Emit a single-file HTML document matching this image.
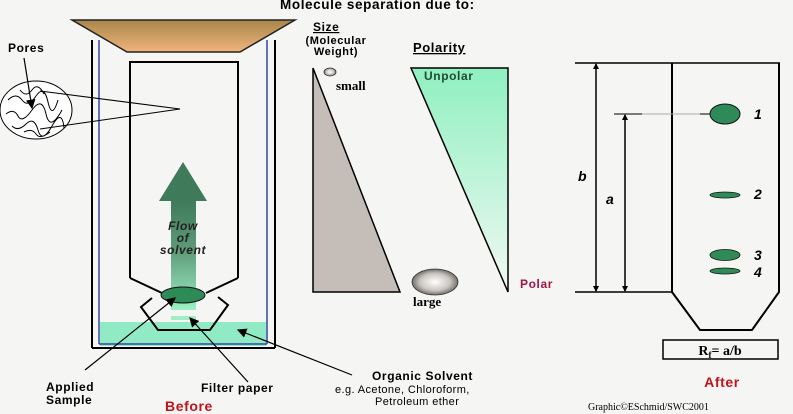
<!DOCTYPE html>
<html><head><style>
html,body{margin:0;padding:0;background:#f5f5f3;}
svg{display:block;}
text{font-family:"Liberation Sans",sans-serif;}
.b{font-weight:bold;letter-spacing:0.6px;}
.s{font-family:"Liberation Serif",serif;letter-spacing:0;}
</style></head><body>
<svg width="793" height="414" viewBox="0 0 793 414" xmlns="http://www.w3.org/2000/svg">
<defs>
<linearGradient id="tan" x1="0" y1="0" x2="0" y2="1"><stop offset="0" stop-color="#a8864a"/><stop offset="1" stop-color="#f0b47c"/></linearGradient>
<linearGradient id="arr" x1="0" y1="0" x2="0" y2="1"><stop offset="0" stop-color="#3f7a5a"/><stop offset="0.45" stop-color="#5e9a78"/><stop offset="1" stop-color="#9ef0c4"/></linearGradient>
<linearGradient id="grn" x1="0" y1="0" x2="0" y2="1"><stop offset="0" stop-color="#8ff0c0"/><stop offset="1" stop-color="#f2f8f4"/></linearGradient>
<radialGradient id="ball" cx="0.5" cy="0.5" r="0.55"><stop offset="0" stop-color="#ffffff"/><stop offset="0.6" stop-color="#c8c4c0"/><stop offset="1" stop-color="#5a5550"/></radialGradient>
<marker id="ah" markerWidth="8" markerHeight="8" refX="7" refY="4" orient="auto"><path d="M0,0 L8,4 L0,8 z" fill="#000"/></marker>
<marker id="sm" markerWidth="6" markerHeight="6" refX="5" refY="3" orient="auto-start-reverse" markerUnits="userSpaceOnUse"><path d="M0,0 L6,3 L0,6 z" fill="#000"/></marker>
</defs>
<!-- beaker -->
<rect x="100" y="322" width="166" height="24" fill="#90ebc4"/>
<line x1="92" y1="40" x2="92" y2="348" stroke="#000" stroke-width="2"/>
<line x1="275" y1="40" x2="275" y2="348" stroke="#000" stroke-width="2"/>
<line x1="92" y1="348" x2="275" y2="348" stroke="#000" stroke-width="2"/>
<line x1="99" y1="40" x2="99" y2="344" stroke="#3344aa" stroke-width="1.5"/>
<line x1="267" y1="40" x2="267" y2="344" stroke="#3344aa" stroke-width="1.5"/>
<line x1="99" y1="344" x2="267" y2="344" stroke="#3344aa" stroke-width="1.5"/>
<polygon points="72,20 295,20 240,52 127,52" fill="url(#tan)" stroke="#222" stroke-width="1.5"/>
<!-- paper -->
<polyline points="130,278 130,62 238,62 238,278" fill="none" stroke="#000" stroke-width="2"/>
<line x1="130" y1="278" x2="162" y2="293" stroke="#000" stroke-width="2"/>
<line x1="238" y1="278" x2="206" y2="293" stroke="#000" stroke-width="2"/>
<!-- arrow -->
<polygon points="183,162 207,201 159,201" fill="#3f7a5a"/>
<rect x="171" y="200" width="25" height="110" fill="url(#arr)"/>
<rect x="171" y="316" width="25" height="4" fill="#9ef0c4"/>
<text x="183" y="230" text-anchor="middle" font-size="12" font-style="italic" class="b" fill="#222">Flow</text>
<text x="183" y="242" text-anchor="middle" font-size="12" font-style="italic" class="b" fill="#222">of</text>
<text x="183" y="254" text-anchor="middle" font-size="12" font-style="italic" class="b" fill="#222">solvent</text>
<!-- hexagon -->
<polyline points="152,298 141,307 158,330 210,330 228,305 218,297" fill="none" stroke="#000" stroke-width="2"/>
<ellipse cx="183" cy="295" rx="22" ry="8" fill="#2e8b57" stroke="#111" stroke-width="1"/>
<!-- pores -->
<ellipse cx="36" cy="110" rx="36" ry="29" fill="#fff" stroke="#000" stroke-width="1"/>
<path d="M8,100 q8,-8 14,0 t14,-4 t12,6 t10,-2 M6,114 q8,-6 12,2 t14,-6 t14,4 t16,-4 M12,126 q6,6 14,-2 t12,6 t14,-4 t12,2 M20,90 q6,8 12,0 t12,4 M24,132 q8,-4 12,2 t14,-2" fill="none" stroke="#000" stroke-width="1"/>
<line x1="40" y1="91" x2="180" y2="109" stroke="#000" stroke-width="1"/>
<line x1="40" y1="129" x2="180" y2="109" stroke="#000" stroke-width="1"/>
<text x="8" y="52" font-size="12" class="b">Pores</text>
<line x1="24" y1="58" x2="32" y2="108" stroke="#000" stroke-width="1.2" marker-end="url(#ah)"/>
<!-- bottom labels -->
<line x1="85" y1="370" x2="175" y2="298" stroke="#000" stroke-width="1.2" marker-end="url(#ah)"/>
<line x1="248" y1="382" x2="190" y2="318" stroke="#000" stroke-width="1.2" marker-end="url(#ah)"/>
<line x1="352" y1="375" x2="238" y2="330" stroke="#000" stroke-width="1.2" marker-end="url(#ah)"/>
<text x="46" y="391" font-size="12" class="b">Applied</text>
<text x="46" y="404" font-size="12" class="b">Sample</text>
<text x="201" y="392" font-size="12" class="b">Filter paper</text>
<text x="165" y="411" font-size="14" class="b" fill="#c0141c">Before</text>
<text x="372" y="380" font-size="12" class="b">Organic Solvent</text>
<text x="335" y="393" font-size="11" letter-spacing="0.4">e.g. Acetone, Chloroform,</text>
<text x="375" y="405" font-size="11" letter-spacing="0.4">Petroleum ether</text>
<!-- title -->
<text x="280" y="9" font-size="13.5" class="b">Molecule separation due to:</text>
<text x="313" y="31" font-size="12" class="b" text-decoration="underline">Size</text>
<text x="336" y="44" font-size="11" class="b" text-anchor="middle">(Molecular</text>
<text x="336" y="55" font-size="11" class="b" text-anchor="middle">Weight)</text>
<text x="413" y="52" font-size="13" class="b" text-decoration="underline">Polarity</text>
<polygon points="313,68 313,292 400,292" fill="#c4bdb8" stroke="#000" stroke-width="1.5"/>
<ellipse cx="330" cy="72" rx="6" ry="4" fill="url(#ball)" stroke="#333" stroke-width="0.8"/>
<text x="336" y="90" font-size="13" class="s b">small</text>
<ellipse cx="435" cy="282" rx="23" ry="13" fill="url(#ball)" stroke="#333" stroke-width="0.8"/>
<text x="413" y="306" font-size="13" class="s b">large</text>
<polygon points="411,68 508,68 508,292" fill="url(#grn)" stroke="#000" stroke-width="1.5"/>
<text x="424" y="80" font-size="12" class="b" fill="#1e4d2e">Unpolar</text>
<text x="520" y="288" font-size="12" class="b" fill="#a0144a">Polar</text>
<!-- right -->
<line x1="575" y1="63" x2="780" y2="63" stroke="#000" stroke-width="1.5"/>
<line x1="575" y1="292" x2="672" y2="292" stroke="#000" stroke-width="1.5"/>
<polyline points="672,63 672,292 700,330 752,330 779,292 779,63" fill="none" stroke="#000" stroke-width="2"/>
<line x1="596" y1="64" x2="596" y2="291" stroke="#000" stroke-width="1.5" marker-end="url(#sm)" marker-start="url(#sm)"/>
<line x1="625" y1="115" x2="625" y2="291" stroke="#000" stroke-width="1.5" marker-end="url(#sm)" marker-start="url(#sm)"/>
<line x1="614" y1="114" x2="642" y2="114" stroke="#000" stroke-width="1"/>
<line x1="642" y1="114" x2="700" y2="114" stroke="#aaa" stroke-width="1"/>
<line x1="700" y1="114" x2="725" y2="114" stroke="#000" stroke-width="1"/>
<ellipse cx="725" cy="114" rx="15" ry="10" fill="#2e8b57" stroke="#111" stroke-width="1"/>
<ellipse cx="725" cy="195" rx="15" ry="3" fill="#2e8b57" stroke="#111" stroke-width="0.8"/>
<ellipse cx="725" cy="255" rx="15" ry="5.5" fill="#2e8b57" stroke="#111" stroke-width="0.8"/>
<ellipse cx="725" cy="271" rx="15" ry="3" fill="#2e8b57" stroke="#111" stroke-width="0.8"/>
<g font-family="Liberation Serif,serif" font-style="italic" font-weight="bold" font-size="14">
<text x="754" y="119">1</text><text x="754" y="199">2</text><text x="754" y="260">3</text><text x="754" y="277">4</text>
<text x="578" y="181">b</text><text x="606" y="204">a</text>
</g>
<rect x="663" y="340" width="115" height="19" fill="none" stroke="#000" stroke-width="1.5"/>
<text x="720" y="355" text-anchor="middle" font-size="14" class="s" font-weight="bold">R<tspan font-size="9" dy="3">f</tspan><tspan dy="-3">= a/b</tspan></text>
<text x="722" y="387" text-anchor="middle" font-size="14" class="b" fill="#c0141c">After</text>
<text x="588" y="410" font-size="10" class="s">Graphic©ESchmid/SWC2001</text>
</svg>
</body></html>
